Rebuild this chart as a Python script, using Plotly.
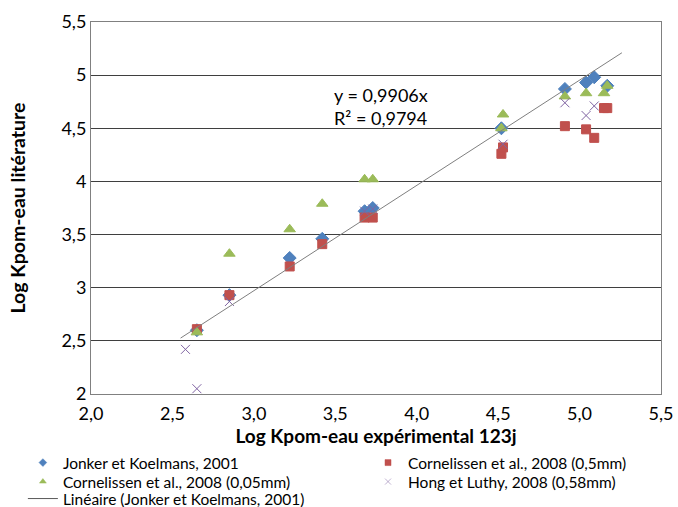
import plotly.graph_objects as go

# Data
jonker_x = [2.65, 2.85, 3.22, 3.42, 3.68, 3.73, 4.52, 4.91, 5.04, 5.09, 5.17]
jonker_y = [2.60, 2.93, 3.28, 3.46, 3.72, 3.75, 4.50, 4.87, 4.93, 4.98, 4.90]

corn05_x = [2.65, 2.85, 3.22, 3.42, 3.68, 3.73, 4.52, 4.53, 4.91, 5.04, 5.09, 5.15, 5.17]
corn05_y = [2.61, 2.93, 3.20, 3.41, 3.66, 3.66, 4.26, 4.32, 4.52, 4.49, 4.41, 4.69, 4.69]

corn005_x = [2.65, 2.85, 3.22, 3.42, 3.68, 3.73, 4.52, 4.53, 4.91, 5.04, 5.15, 5.17]
corn005_y = [2.58, 3.32, 3.55, 3.79, 4.02, 4.02, 4.50, 4.63, 4.80, 4.83, 4.83, 4.90]

hong_x = [2.58, 2.65, 2.85, 3.68, 3.73, 4.53, 4.91, 5.04, 5.09]
hong_y = [2.42, 2.05, 2.87, 3.72, 3.74, 4.35, 4.74, 4.62, 4.71]

slope = 0.9906
r2 = 0.9794
trend_x = [2.55, 5.26]
trend_y = [slope * v for v in trend_x]

names = ["Jonker et Koelmans, 2001", "Cornelissen et al., 2008 (0,5mm)",
         "Cornelissen et al., 2008 (0,05mm)", "Hong et Luthy, 2008 (0,58mm)",
         "Linéaire (Jonker et Koelmans, 2001)"]
colors = ["#4F81BD", "#C0504D", "#9BBB59", "#8064A2", "#595959"]
symbols = ["diamond", "square", "triangle-up", "x-thin-open"]
sizes = [10, 9, 10, 9]
legend_sizes = [6, 6, 6, 6]

FONT = "Lato"

fig = go.Figure()
series = [(jonker_x, jonker_y), (corn05_x, corn05_y), (corn005_x, corn005_y), (hong_x, hong_y)]
for i, (xs, ys) in enumerate(series):
    fig.add_trace(go.Scatter(
        x=xs, y=ys, mode="markers", name=names[i], showlegend=False,
        marker=dict(symbol=symbols[i], size=sizes[i], color=colors[i],
                    line=dict(width=1, color=colors[i]))))
fig.add_trace(go.Scatter(x=trend_x, y=trend_y, mode="lines", name=names[4],
                         showlegend=False, line=dict(color="#7f7f7f", width=1)))

# legend entries: one legend per cell (2 columns x 3 rows like the reference)
legend_ids = ["legend", "legend2", "legend3", "legend4", "legend5"]
for i in range(4):
    fig.add_trace(go.Scatter(x=[None], y=[None], mode="markers", name=names[i],
                             legend=legend_ids[i],
                             marker=dict(symbol=symbols[i], size=legend_sizes[i],
                                         color=colors[i], line=dict(width=0.5, color=colors[i]))))
fig.add_trace(go.Scatter(x=[None], y=[None], mode="lines", name=names[4], legend=legend_ids[4],
                         line=dict(color=colors[4], width=1)))

fig.add_annotation(x=3.48, y=4.81, xref="x", yref="y", text="y = 0,9906x",
                   showarrow=False, xanchor="left", yanchor="middle",
                   font=dict(family=FONT, size=18, color="#000"))
fig.add_annotation(x=3.48, y=4.60, xref="x", yref="y", text="R² = 0,9794",
                   showarrow=False, xanchor="left", yanchor="middle",
                   font=dict(family=FONT, size=18, color="#000"))

legfont = dict(family=FONT, size=15.5, color="#000")
col_x = [-0.1195, 0.486]
row_y = [-0.1398, -0.1909, -0.2365]
cells = [(0, 0), (1, 0), (0, 1), (1, 1), (0, 2)]
legends = {}
for lid, (c, r) in zip(legend_ids, cells):
    legends[lid] = dict(orientation="v", x=col_x[c], y=row_y[r], xanchor="left",
                        yanchor="top", font=legfont, itemsizing="trace",
                        bgcolor="rgba(0,0,0,0)")

fig.update_layout(
    width=678, height=507,
    margin=dict(l=91, r=17, t=22, b=113, autoexpand=False),
    paper_bgcolor="white", plot_bgcolor="white",
    separators=", ",
    font=dict(family=FONT, size=18, color="#000"),
    showlegend=True,
    **legends,
)
fig.update_xaxes(range=[2.0, 5.5], tickvals=[2.0, 2.5, 3.0, 3.5, 4.0, 4.5, 5.0, 5.5],
                 tickformat=".1f", showgrid=False, zeroline=False,
                 showline=True, linecolor="#808080", linewidth=1, mirror=True,
                 ticks="", tickfont=dict(size=18), ticklabelstandoff=3,
                 title=dict(text="<b>Log Kpom-eau expérimental 123j</b>",
                            font=dict(size=19), standoff=3))
fig.update_yaxes(range=[2.0, 5.5], tickvals=[2.0, 2.5, 3.0, 3.5, 4.0, 4.5, 5.0, 5.5],
                 showgrid=True, gridcolor="#3f3f3f", gridwidth=1, zeroline=False,
                 showline=True, linecolor="#808080", linewidth=1, mirror=True,
                 ticks="", tickfont=dict(size=18),
                 title=dict(text="<b>Log Kpom-eau litérature</b>",
                            font=dict(size=19.5), standoff=30))

fig.write_html("out.html")
